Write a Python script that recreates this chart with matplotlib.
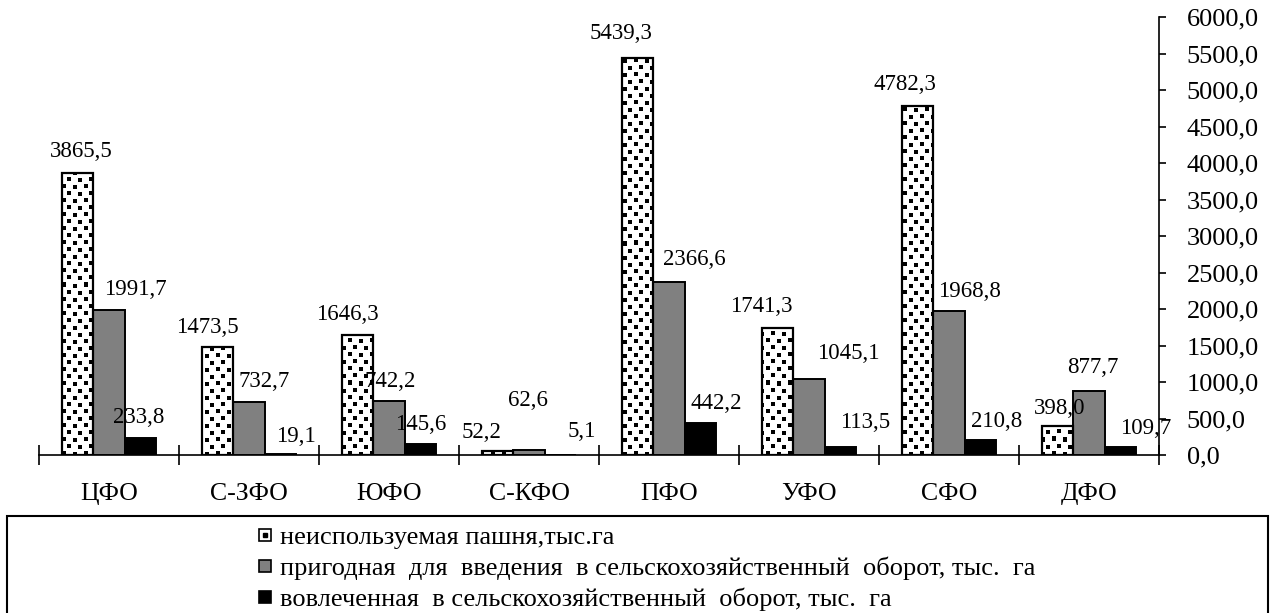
import numpy as np
import matplotlib
matplotlib.use("Agg")
import matplotlib.pyplot as plt
from matplotlib.patches import Rectangle
from matplotlib.lines import Line2D
from matplotlib.ticker import FuncFormatter, FixedLocator

# ---------------- data ----------------
categories = ["ЦФО", "С-ЗФО", "ЮФО", "С-КФО", "ПФО", "УФО", "СФО", "ДФО"]
unused_arable = [3865.5, 1473.5, 1646.3, 52.2, 5439.3, 1741.3, 4782.3, 398.0]
suitable = [1991.7, 732.7, 742.2, 62.6, 2366.6, 1045.1, 1968.8, 877.7]
involved = [233.8, 19.1, 145.6, 5.1, 442.2, 113.5, 210.8, 109.7]
series_labels = [
    "неиспользуемая пашня,тыс.га",
    "пригодная  для  введения  в сельскохозяйственный  оборот, тыс.  га",
    "вовлеченная  в сельскохозяйственный  оборот, тыс.  га",
]
y_ticks = [0, 500, 1000, 1500, 2000, 2500, 3000, 3500, 4000, 4500, 5000, 5500, 6000]

# label placement offsets (pixels): horizontal shift, height above bar top
label_dx = [
    [3, -11, -11, -16, -17, -17, -13, 2],
    [26, 15, 1, -1, 25, 39, 20, 4],
    [-1, 16, 1, 22, 16, 25, 17, 26],
]
label_dy = [
    [21, 20, 20, 19, 24, 21, 21, 17],
    [20, 20, 19, 50, 23, 25, 20, 23],
    [20, 17, 20, 23, 19, 24, 18, 18],
]

plt.rcParams["font.family"] = ["Liberation Serif", "DejaVu Serif"]
FS = 16.5      # data labels
FS_T = 19      # tick labels
FS_C = 18.5    # category labels
FS_L = 19      # legend
W, H = 1275, 613
fig = plt.figure(figsize=(W / 100, H / 100), dpi=100)
ax_l, ax_r, ax_top, ax_bot = 39, 1159, 17, 455
ax = fig.add_axes([ax_l / W, (H - ax_bot) / H, (ax_r - ax_l) / W, (ax_bot - ax_top) / H])

n = len(categories)
x = np.arange(n)
bw = 1 / 4.5

# confetti texture tile for the first series (1 = white, 0 = black)
tile = np.ones((14, 22))
for r, c in [(0, 1), (1, 12), (7, 6), (8, 17)]:
    tile[r:r + 4, c:c + 4] = 0
reps_r = (ax_bot - ax_top) // tile.shape[0] + 2
reps_c = (ax_r - ax_l) // tile.shape[1] + 2
tex = np.tile(tile, (reps_r, reps_c))

series = [unused_arable, suitable, involved]
colors = ["white", "#808080", "black"]
containers = []
for k, (vals, col) in enumerate(zip(series, colors)):
    bars = ax.bar(x + (k - 1) * bw, vals, bw, color=col, edgecolor="black",
                  linewidth=1.4, zorder=3)
    containers.append(bars)

ext = (-0.5, -0.5 + tex.shape[1] / (ax_r - ax_l) * n,
       6000 - 6000 * tex.shape[0] / (ax_bot - ax_top), 6000)
for b in containers[0]:
    im = ax.imshow(tex, cmap="gray", vmin=0, vmax=1, interpolation="nearest",
                   extent=ext, aspect="auto", zorder=3.5, origin="upper")
    im.set_clip_path(b)
    ax.add_patch(Rectangle(b.get_xy(), b.get_width(), b.get_height(), fill=False,
                           edgecolor="black", linewidth=1.6, zorder=4))
ax.set_xlim(-0.5, n - 0.5)
ax.set_ylim(0, 6000)

fmt = lambda v: f"{v:.1f}".replace(".", ",")
for k, bars in enumerate(containers):
    for i, b in enumerate(bars):
        v = series[k][i]
        ax.annotate(fmt(v), xy=(b.get_x() + b.get_width() / 2, v),
                    xytext=(label_dx[k][i] * 0.72, label_dy[k][i] * 0.72),
                    textcoords="offset points", ha="center", va="center",
                    fontsize=FS, zorder=6)

# axes styling
for s in ["left", "top"]:
    ax.spines[s].set_visible(False)
ax.spines["bottom"].set_linewidth(1.2)
ax.spines["right"].set_linewidth(1.2)
ax.yaxis.tick_right()
ax.yaxis.set_major_locator(FixedLocator(y_ticks))
ax.yaxis.set_major_formatter(FuncFormatter(lambda v, p: fmt(v)))
ax.tick_params(axis="y", direction="out", length=5, width=1.2, pad=15, labelsize=FS_T)
ax.set_xticks(x)
ax.set_xticklabels(categories)
ax.tick_params(axis="x", which="major", length=0, pad=20, labelsize=FS_C)
ax.set_xticks(np.arange(n + 1) - 0.5, minor=True)
ax.tick_params(axis="x", which="minor", direction="inout", length=14, width=1.2)

# legend box
fig.patches.append(Rectangle((7 / W, -0.1), (1268 - 7) / W, 0.1 + (H - 516) / H,
                             transform=fig.transFigure, fill=False,
                             edgecolor="black", linewidth=1.5))
h1 = (Line2D([], [], marker="s", ms=9, mfc="white", mec="black", mew=1.2, ls=""),
      Line2D([], [], marker="s", ms=3.5, color="black", ls=""))
h2 = Line2D([], [], marker="s", ms=9, mfc="#808080", mec="black", mew=1.2, ls="")
h3 = Line2D([], [], marker="s", ms=9, mfc="black", mec="black", mew=1.2, ls="")
fig.legend([h1, h2, h3], series_labels, loc="upper left",
           bbox_to_anchor=(256 / W, (H - 526) / H), frameon=False,
           fontsize=FS_L, handlelength=0.7, handletextpad=0.2,
           labelspacing=0.28, borderpad=0, borderaxespad=0)

fig.savefig("out.png", dpi=100)
